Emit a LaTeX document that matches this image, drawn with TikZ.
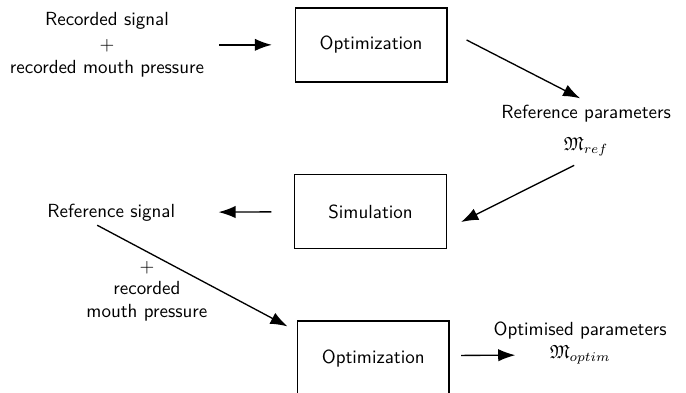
\documentclass[tikz,border=0pt]{standalone}
\usepackage{amssymb}
\usetikzlibrary{arrows.meta}

\tikzset{block/.style={draw,line width=0.7pt,minimum width=2.81cm,minimum height=1.37cm,font=\sffamily},
         label/.style={align=center,font=\sffamily},
         flow/.style={line width=0.7pt,-{Latex[length=9pt,width=6.5pt]}}}

\begin{document}
\begin{tikzpicture}
        \useasboundingbox (0,0) rectangle (12.70,7.26);
        % the three steps
        \node[block] (opt1) at (6.87,6.43) {Optimization};
        \node[block] (sim) at (6.86,3.34) {Simulation};
        \node[block] (opt2) at (6.91,0.63) {Optimization};
        % inputs and outputs
        \node[label] (recsig) at (1.98,6.43) {Recorded signal\\[1pt]$+$\\recorded mouth pressure};
        \node[label] (refpar) at (10.85,4.85) {Reference parameters\\[5pt]$\mathfrak{M}_{ref}$};
        \node[label] (refsig) at (2.06,3.33) {Reference signal};
        \node[label] (recmouth) at (2.72,1.87) {$+$\\recorded\\mouth pressure};
        \node[label] (optpar) at (10.74,0.91) {Optimised parameters\\$\mathfrak{M}_{optim}$};
        \draw[flow,shorten <=0.16cm,shorten >=0.42cm] (recsig.east) -- (opt1.west);
        \draw[flow] ([shift={(0.35,0.09)}]opt1.east) -- ([shift={(-0.11,0.59)}]refpar.center);
        \draw[flow] ([shift={(-0.22,-0.65)}]refpar.center) -- ([shift={(0.26,-0.19)}]sim.east);
        \draw[flow,shorten <=0.42cm,shorten >=0.68cm] (sim.west) -- (refsig.east);
        \draw[flow] ([shift={(-0.26,-0.24)}]refsig.center) -- ([shift={(-0.17,-0.11)}]opt2.north west);
        \draw[flow] ([shift={(0.21,0.05)}]opt2.east) -- ([shift={(-1.2,-0.225)}]optpar.center);
    \end{tikzpicture}
\end{document}
